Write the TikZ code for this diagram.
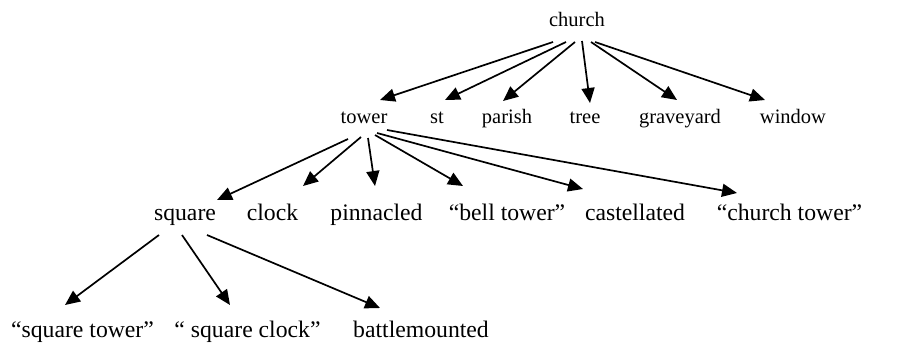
\documentclass[tikz,border=0pt]{standalone}
\usepackage{fontspec}
\setmainfont{Liberation Serif}
\usetikzlibrary{arrows.meta}

\begin{document}
\begin{tikzpicture}[x=1pt,y=-1pt,
  word/.style={anchor=base,inner sep=0pt},
  upper/.style={word,font=\fontsize{20.5}{24}\selectfont},
  lower/.style={word,font=\fontsize{23.7}{28}\selectfont},
  arr/.style={-{Triangle[length=15pt,width=13pt]},line width=1.7pt}]
\useasboundingbox (0,0) rectangle (907,345);
% root
\node[upper] (church) at (577,27) {church};
% level 2
\node[upper] (tower) at (364,123) {tower};
\node[upper] (st) at (437,123) {st};
\node[upper] (parish) at (507,123) {parish};
\node[upper] (tree) at (585,123) {tree};
\node[upper] (graveyard) at (680,123) {graveyard};
\node[upper] (window) at (793,123) {window};
% level 3
\node[lower] (square) at (185,220) {square};
\node[lower] (clock) at (272.5,220) {clock};
\node[lower] (pinnacled) at (376.5,220) {pinnacled};
\node[lower] (belltower) at (507,220) {“bell tower”};
\node[lower] (castellated) at (635,220) {castellated};
\node[lower] (churchtower) at (789.5,220) {“church tower”};
% level 4
\node[lower] (sqtower) at (82.5,337) {“square tower”};
\node[lower] (sqclock) at (247.5,337) {“ square clock”};
\node[lower] (battle) at (421,337) {battlemounted};
% church
\draw[arr] ([shift={(-24,15)}]church.base) -- ([shift={(16,-23)}]tower.base);
\draw[arr] ([shift={(-11,15)}]church.base) -- ([shift={(8,-23)}]st.base);
\draw[arr] ([shift={(-2,15)}]church.base) -- ([shift={(-4,-22)}]parish.base);
\draw[arr] ([shift={(5,14)}]church.base) -- ([shift={(5,-20)}]tree.base);
\draw[arr] ([shift={(14,15)}]church.base) -- ([shift={(-3,-23)}]graveyard.base);
\draw[arr] ([shift={(18,15)}]church.base) -- ([shift={(-28,-23)}]window.base);
% tower
\draw[arr] ([shift={(-16,16)}]tower.base) -- ([shift={(32,-20)}]square.base);
\draw[arr] ([shift={(-3,14)}]tower.base) -- ([shift={(30.5,-34)}]clock.base);
\draw[arr] ([shift={(4,15)}]tower.base) -- ([shift={(-1.5,-34)}]pinnacled.base);
\draw[arr] ([shift={(11,12)}]tower.base) -- ([shift={(-44,-34)}]belltower.base);
\draw[arr] ([shift={(13,10)}]tower.base) -- ([shift={(-52,-31)}]castellated.base);
\draw[arr] ([shift={(23,7)}]tower.base) -- ([shift={(-52.5,-27)}]churchtower.base);
% square
\draw[arr] ([shift={(-26,15)}]square.base) -- ([shift={(-17.5,-32)}]sqtower.base);
\draw[arr] ([shift={(-3,15)}]square.base) -- ([shift={(-17.5,-32)}]sqclock.base);
\draw[arr] ([shift={(22,15)}]square.base) -- ([shift={(-41,-29)}]battle.base);
\end{tikzpicture}
\end{document}
